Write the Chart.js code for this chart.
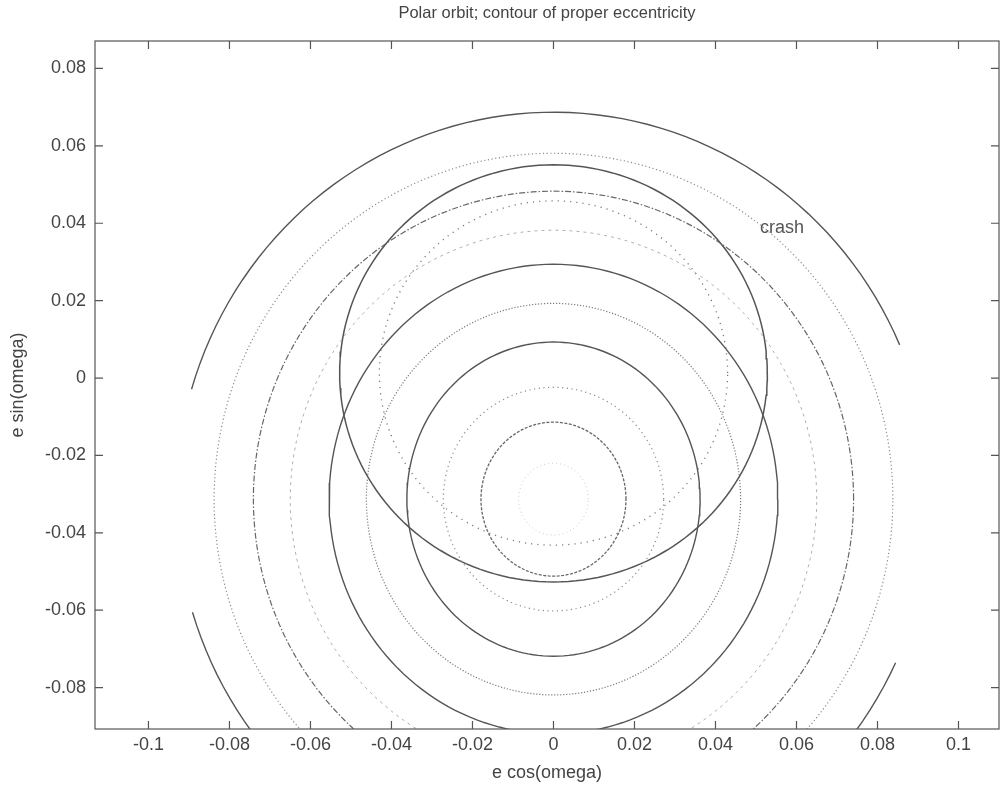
<!DOCTYPE html>
<html>
<head>
<meta charset="utf-8">
<script src="https://cdn.jsdelivr.net/npm/chart.js@4.4.0/dist/chart.umd.min.js"></script>
<style>
html, body { margin: 0; padding: 0; background: #fff; }
#wrap { width: 1006px; height: 792px; }
</style>
</head>
<body>
<div id="wrap"><canvas id="orbit-chart" width="1006" height="792"></canvas></div>
<script>
// 軸の範囲と目盛り
const xRange = [-0.1132, 0.1100];
const yRange = [-0.0907, 0.0871];
const xTicks = [-0.1, -0.08, -0.06, -0.04, -0.02, 0, 0.02, 0.04, 0.06, 0.08, 0.1];
const xTickLabels = ['-0.1', '-0.08', '-0.06', '-0.04', '-0.02', '0', '0.02', '0.04', '0.06', '0.08', '0.1'];
const yTicks = [-0.08, -0.06, -0.04, -0.02, 0, 0.02, 0.04, 0.06, 0.08];
const yTickLabels = ['-0.08', '-0.06', '-0.04', '-0.02', '0', '0.02', '0.04', '0.06', '0.08'];

// 固有離心率の等高線（中心 + 半径、図から読み取り）
const ringCenter = [0, -0.0313];
const ringRx = [0.0086, 0.0179, 0.0272, 0.0362, 0.0462, 0.0554, 0.0650, 0.0741, 0.0838, 0.0932];
const ringRy = [0.0093, 0.0199, 0.0289, 0.0406, 0.0506, 0.0607, 0.0695, 0.0796, 0.0894, 0.1000];
// 描かれている弧の範囲（度）
const ringArcs = [
    [[0, 360]], [[0, 360]], [[0, 360]], [[0, 360]], [[0, 360]],
    [[0, 360]], [[0, 360]], [[0, 360]], [[0, 360]],
    [[23.5, 164], [197, 336]]
];

// crash 境界
const crashCenter = [0, 0.0012];
const crashRx = 0.0528;
const crashRy = 0.0539;
// crash 内側の点線
const innerCenter = [0, 0.0013];
const innerRx = 0.0430;
const innerRy = 0.0445;
const crashText = 'crash';
const crashAt = [0.0564, 0.0388];

// 線のスタイル
const ringLooks = [
    { color: '#c8c8c8', dash: [1, 3], width: 1 },
    { color: '#666', dash: [3, 1.5], width: 1.3 },
    { color: '#8a8a8a', dash: [1.2, 3.5], width: 1.2 },
    { color: '#555', dash: [], width: 1.4 },
    { color: '#7a7a7a', dash: [1.2, 1.8], width: 1.2 },
    { color: '#555', dash: [], width: 1.4 },
    { color: '#b0b0b0', dash: [3, 4], width: 1 },
    { color: '#666', dash: [6, 2, 1.5, 2], width: 1.2 },
    { color: '#8a8a8a', dash: [1.2, 2.5], width: 1.2 },
    { color: '#555', dash: [], width: 1.4 }
];

// 楕円弧の点列
function traceArc(cx, cy, rx, ry, a0, a1) {
    const pts = [];
    for (let a = a0; a <= a1 + 0.001; a += 2) {
        const t = a * Math.PI / 180;
        pts.push({ x: cx + rx * Math.cos(t), y: cy + ry * Math.sin(t) });
    }
    return pts;
}

function lineSet(pts, look) {
    return {
        data: pts,
        showLine: true,
        pointRadius: 0,
        borderColor: look.color,
        borderWidth: look.width,
        borderDash: look.dash,
        tension: 0,
        clip: 0
    };
}

const datasets = [];
ringRx.forEach((rx, i) => {
    ringArcs[i].forEach(arc => {
        const pts = traceArc(ringCenter[0], ringCenter[1], rx, ringRy[i], arc[0], arc[1]);
        datasets.push(lineSet(pts, ringLooks[i]));
    });
});
datasets.push(lineSet(traceArc(crashCenter[0], crashCenter[1], crashRx, crashRy, 0, 360),
    { color: '#555', dash: [], width: 1.5 }));
datasets.push(lineSet(traceArc(innerCenter[0], innerCenter[1], innerRx, innerRy, 0, 360),
    { color: '#7a7a7a', dash: [1.2, 5], width: 1.3 }));

// 枠・内向き目盛り・ラベル
const framePlugin = {
    id: 'frame',
    afterDatasetsDraw(chart) {
        const { ctx, chartArea: a, scales: { x, y } } = chart;
        ctx.save();
        ctx.strokeStyle = '#555';
        ctx.lineWidth = 1.2;
        ctx.strokeRect(a.left, a.top, a.right - a.left, a.bottom - a.top);
        const len = 8;
        ctx.beginPath();
        xTicks.forEach(v => {
            const px = x.getPixelForValue(v);
            ctx.moveTo(px, a.bottom); ctx.lineTo(px, a.bottom - len);
            ctx.moveTo(px, a.top); ctx.lineTo(px, a.top + len);
        });
        yTicks.forEach(v => {
            const py = y.getPixelForValue(v);
            ctx.moveTo(a.left, py); ctx.lineTo(a.left + len, py);
            ctx.moveTo(a.right, py); ctx.lineTo(a.right - len, py);
        });
        ctx.stroke();
        ctx.fillStyle = '#555';
        ctx.font = '18px "Liberation Sans", Arial, sans-serif';
        ctx.textAlign = 'center';
        ctx.textBaseline = 'middle';
        ctx.fillText(crashText, x.getPixelForValue(crashAt[0]), y.getPixelForValue(crashAt[1]));
        ctx.restore();
    }
};

const fontFamily = '"Liberation Sans", Arial, sans-serif';
const tickFont = { family: fontFamily, size: 18 };

new Chart(document.getElementById('orbit-chart').getContext('2d'), {
    type: 'scatter',
    data: { datasets },
    options: {
        responsive: false,
        animation: false,
        layout: { padding: { left: 0, right: 7, top: 0, bottom: 0 } },
        plugins: {
            legend: { display: false },
            tooltip: { enabled: false },
            title: {
                display: true,
                text: 'Polar orbit; contour of proper eccentricity',
                fullSize: false,
                color: '#444',
                font: { family: fontFamily, size: 16.5, weight: 'normal' },
                padding: { top: 4, bottom: 17.2 }
            }
        },
        scales: {
            x: {
                type: 'linear',
                min: xRange[0],
                max: xRange[1],
                grid: { display: false, drawTicks: false },
                border: { display: false },
                afterBuildTicks: s => { s.ticks = xTicks.map(v => ({ value: v })); },
                afterFit: s => { s.height = 63; },
                ticks: {
                    color: '#444',
                    font: tickFont,
                    padding: 5,
                    maxRotation: 0,
                    callback: (v, i) => xTickLabels[i]
                },
                title: {
                    display: true,
                    text: 'e cos(omega)',
                    color: '#444',
                    font: { family: fontFamily, size: 18 },
                    padding: { top: 0, bottom: 8 }
                }
            },
            y: {
                type: 'linear',
                min: yRange[0],
                max: yRange[1],
                grid: { display: false, drawTicks: false },
                border: { display: false },
                afterBuildTicks: s => { s.ticks = yTicks.map(v => ({ value: v })); },
                afterFit: s => { s.width = 95; },
                ticks: {
                    color: '#444',
                    font: tickFont,
                    padding: 9,
                    callback: (v, i) => yTickLabels[i]
                },
                title: {
                    display: true,
                    text: 'e sin(omega)',
                    color: '#444',
                    font: { family: fontFamily, size: 18 },
                    padding: { top: 7, bottom: 0 }
                }
            }
        }
    },
    plugins: [framePlugin]
});
</script>
</body>
</html>
